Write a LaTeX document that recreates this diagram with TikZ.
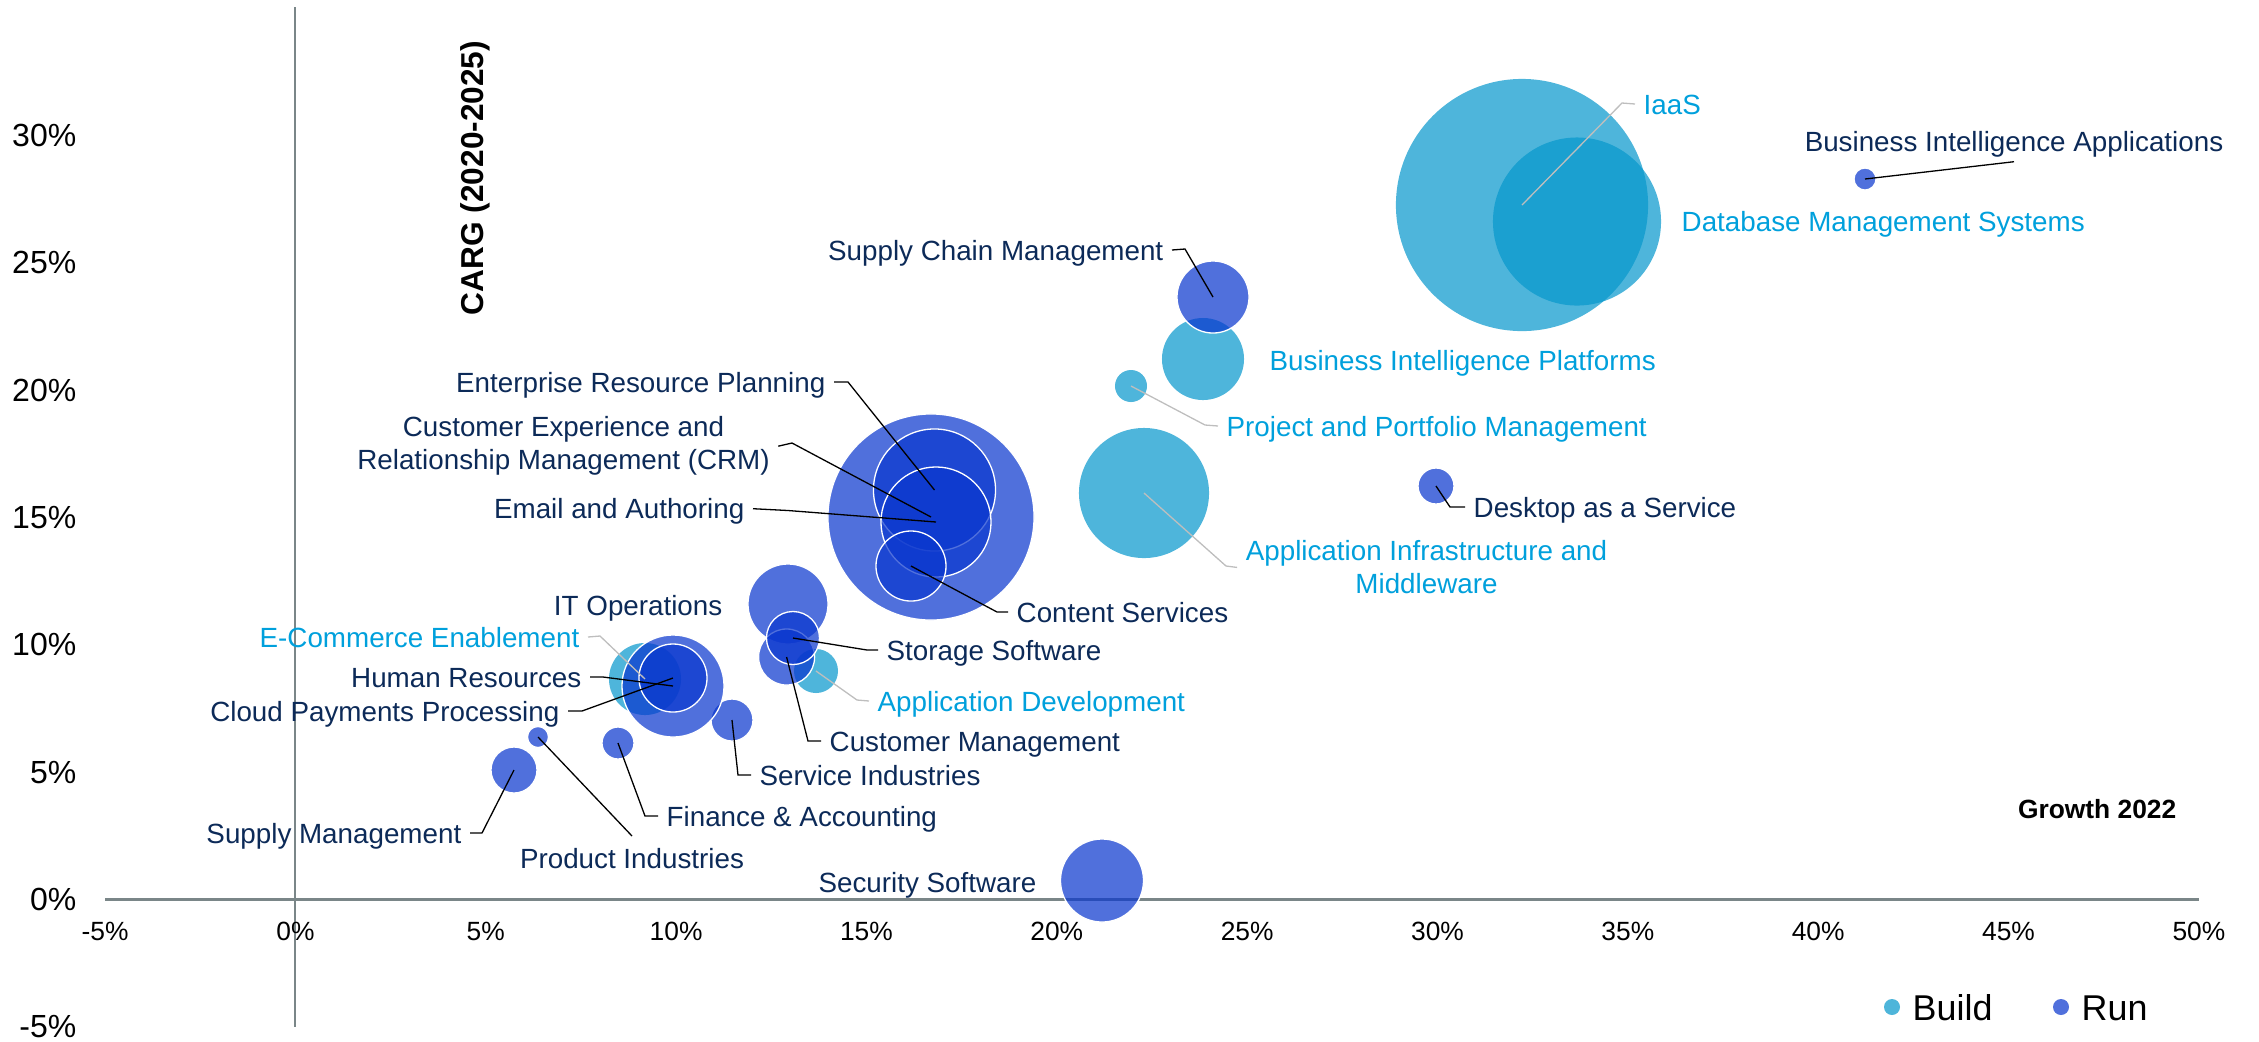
\documentclass[tikz,border=0pt]{standalone}
\usepackage{fontspec}
\setmainfont{Liberation Sans}
\definecolor{bldfill}{RGB}{6,151,204}
\definecolor{runfill}{RGB}{9,54,206}
\definecolor{bldsolid}{RGB}{78,181,218}
\definecolor{runsolid}{RGB}{80,112,220}
\definecolor{runtxt}{RGB}{12,42,88}
\definecolor{bldtxt}{RGB}{0,160,220}
\definecolor{axisgray}{RGB}{122,134,136}
\definecolor{ldgray}{RGB}{190,190,190}
\newcommand\lblfont{\fontsize{7.9pt}{9.39pt}\selectfont}
\begin{document}
\begin{tikzpicture}[x=0.01cm,y=-0.01cm,
  bb/.style={circle,inner sep=0,fill=bldfill,fill opacity=0.71,draw=none},
  rb/.style={circle,inner sep=0,fill=runfill,fill opacity=0.71,draw=white,line width=0.013cm},
  rl/.style={font=\lblfont,text=runtxt,inner xsep=0.08cm,inner ysep=0,text height=0.2cm,text depth=0cm},
  bl/.style={font=\lblfont,text=bldtxt,inner xsep=0.08cm,inner ysep=0,text height=0.2cm,text depth=0cm},
  rml/.style={font=\lblfont,text=runtxt,align=center,inner xsep=0.08cm,inner ysep=0},
  bml/.style={font=\lblfont,text=bldtxt,align=center,inner xsep=0.08cm,inner ysep=0},
  lr/.style={draw=black,line width=0.013cm},
  lb/.style={draw=ldgray,line width=0.013cm},
  xtick/.style={font=\fontsize{7.5pt}{9pt}\selectfont,inner sep=0,text height=0.19cm,text depth=0cm},
  ytick/.style={font=\fontsize{9.1pt}{11pt}\selectfont,inner sep=0,text height=0.23cm,text depth=0cm,anchor=east},
  legdot/.style={circle,inner sep=0,minimum size=0.16cm,draw=none},
  legtxt/.style={font=\fontsize{10.2pt}{12pt}\selectfont,inner sep=0,text height=0.26cm,text depth=0cm,anchor=west}
]
\useasboundingbox (0,0) rectangle (2259,1041);

% axes
\coordinate (ytop) at (295,7);
\coordinate (ybot) at (295,1027);
\coordinate (xleft) at (105,899);
\coordinate (xright) at (2199,899);
\draw[axisgray,line width=0.02cm] (ytop) -- (ybot);
\draw[axisgray,line width=0.03cm] (xleft) -- (xright);

% tick labels
\foreach \v in {-5,0,...,50}{
  \node[xtick] (xt\v) at ({295.4+38.07*\v},931) {\v\%};
}
\foreach \v in {-5,0,...,30}{
  \node[ytick] (yt\v) at (77,{899-25.47*\v}) {\v\%};
}

% axis titles
\node[font=\bfseries\fontsize{9pt}{11pt}\selectfont,rotate=90,inner sep=0] (carg) at (475.5,178) {CARG (2020-2025)};
\node[font=\bfseries\fontsize{7.5pt}{9pt}\selectfont,anchor=east,inner sep=0,text height=0.19cm,text depth=0cm] (growth) at (2177,809) {Growth 2022};

% Build bubbles
\node[bb,minimum size=2.52cm] (iaas) at (1522,205) {};
\node[bb,minimum size=1.68cm] (dbms) at (1577,221.5) {};
\node[bb,minimum size=0.82cm] (bip) at (1203,359) {};
\node[bb,minimum size=0.32cm] (ppm) at (1131,386) {};
\node[bb,minimum size=1.30cm] (aim) at (1144,493) {};
\node[bb,minimum size=0.44cm] (ad) at (816,671) {};
\node[bb,minimum size=0.72cm] (ec) at (645,679) {};

% Run bubbles
\node[rb,minimum size=0.22cm] (bia) at (1865,179) {};
\node[rb,minimum size=0.72cm] (scm) at (1213,297) {};
\node[rb,minimum size=0.36cm] (daas) at (1436,486) {};
\node[rb,minimum size=2.06cm] (crm) at (931,517) {};
\node[rb,minimum size=1.22cm] (erp) at (934.5,490) {};
\node[rb,minimum size=1.10cm] (eml) at (936,522) {};
\node[rb,minimum size=0.70cm] (cs) at (911,566) {};
\node[rb,minimum size=0.80cm] (ito) at (788,604) {};
\node[rb,minimum size=0.56cm] (cm) at (786.6,657) {};
\node[rb,minimum size=0.53cm] (ss) at (793,638) {};
\node[rb,minimum size=0.42cm] (si) at (732,720) {};
\node[rb,minimum size=1.02cm] (hr) at (673,686) {};
\node[rb,minimum size=0.68cm] (cpp) at (673,678) {};
\node[rb,minimum size=0.32cm] (fa) at (618,743) {};
\node[rb,minimum size=0.21cm] (pi) at (538,737) {};
\node[rb,minimum size=0.46cm] (sm) at (514,770) {};
\node[rb,minimum size=0.83cm] (secs) at (1102,880.5) {};

% Build labels
\node[bl,anchor=west] (iaasl) at (1635,104) {IaaS};
\node[bl,anchor=west,inner xsep=0] (dbmsl) at (1681,221) {Database Management Systems};
\node[bl,anchor=west,inner xsep=0] (bipl) at (1269,360) {Business Intelligence Platforms};
\node[bl,anchor=west] (ppml) at (1218,426) {Project and Portfolio Management};
\node[bml,anchor=north] (aiml) at (1426.5,540) {Application Infrastructure and\\Middleware};
\node[bl,anchor=west] (adl) at (869,701) {Application Development};
\node[bl,anchor=east] (ecl) at (588,637) {E-Commerce Enablement};

% Run labels
\node[rl,anchor=south,inner ysep=0.1cm] (bial) at (2014,161.7) {Business Intelligence Applications};
\node[rl,anchor=east] (scml) at (1172,250) {Supply Chain Management};
\node[rl,anchor=west] (daasl) at (1465,507) {Desktop as a Service};
\node[rl,anchor=east] (erpl) at (834,382) {Enterprise Resource Planning};
\node[rml,anchor=north] (crml) at (563.5,416) {Customer Experience and\\Relationship Management (CRM)};
\node[rl,anchor=east] (emll) at (753,508.7) {Email and Authoring};
\node[rl,anchor=west] (csl) at (1008,612) {Content Services};
\node[rl,anchor=east,inner xsep=0] (itol) at (723,605) {IT Operations};
\node[rl,anchor=west] (ssl) at (878,650) {Storage Software};
\node[rl,anchor=west] (cml) at (821,741) {Customer Management};
\node[rl,anchor=west] (sil) at (751,775) {Service Industries};
\node[rl,anchor=east] (hrl) at (590,677) {Human Resources};
\node[rl,anchor=east] (cppl) at (568,711) {Cloud Payments Processing};
\node[rl,anchor=west] (fal) at (658,816) {Finance \& Accounting};
\node[rl,anchor=north,inner ysep=0.12cm] (pil) at (632,836) {Product Industries};
\node[rl,anchor=east] (sml) at (470,833) {Supply Management};
\node[rl,anchor=east,inner xsep=0] (secsl) at (1037,882) {Security Software};

% Build leaders
\draw[lb] (iaas.center) -- (1622,103) -- (iaasl.west);
\draw[lb] (ppm.center) -- (1205,425) -- (ppml.west);
\draw[lb] (aim.center) -- (1226,566) -- (aiml.west);
\draw[lb] (ad.center) -- (857,700) -- (adl.west);
\draw[lb] (ec.center) -- (600,636) -- (ecl.east);

% Run leaders
\draw[lr] (bia.center) -- (bial.south);
\draw[lr] (scm.center) -- (1185,249) -- (scml.east);
\draw[lr] (daas.center) -- (1450,507) -- (daasl.west);
\draw[lr] (erp.center) -- (848,382) -- (erpl.east);
\draw[lr] (crm.center) -- (792,443) -- (crml.east);
\draw[lr] (eml.center) -- (788,510.5) -- (emll.east);
\draw[lr] (cs.center) -- (997,612) -- (csl.west);
\draw[lr] (ss.center) -- (867,650) -- (ssl.west);
\draw[lr] (cm.center) -- (808,741) -- (cml.west);
\draw[lr] (si.center) -- (738,775) -- (sil.west);
\draw[lr] (hr.center) -- (603,677) -- (hrl.east);
\draw[lr] (cpp.center) -- (582,711) -- (cppl.east);
\draw[lr] (fa.center) -- (645,816) -- (fal.west);
\draw[lr] (pi.center) -- (pil.north);
\draw[lr] (sm.center) -- (482,833) -- (sml.east);

% legend
\node[legdot,fill=bldsolid] (legb) at (1892,1007) {};
\node[legtxt] (legbt) at (1912,1007) {Build};
\node[legdot,fill=runsolid] (legr) at (2061,1007) {};
\node[legtxt] (legrt) at (2081,1007) {Run};
\end{tikzpicture}
\end{document}
